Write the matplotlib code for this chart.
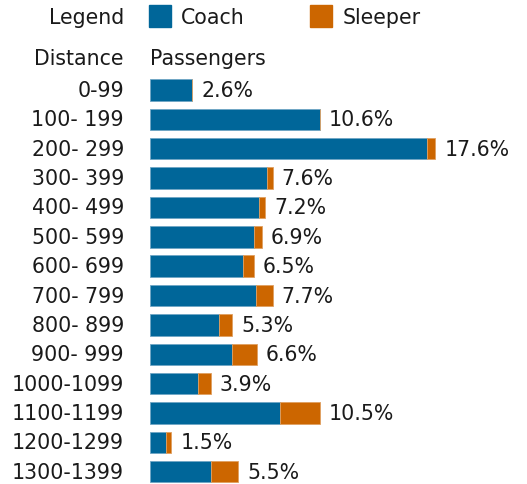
import matplotlib
matplotlib.use("Agg")
import matplotlib.pyplot as plt
from matplotlib.patches import Rectangle

categories = ["0-99", "100- 199", "200- 299", "300- 399", "400- 499", "500- 599",
              "600- 699", "700- 799", "800- 899", "900- 999", "1000-1099",
              "1100-1199", "1200-1299", "1300-1399"]
coach = [2.61, 10.51, 17.12, 7.24, 6.75, 6.42, 5.76, 6.56, 4.28, 5.08, 2.96, 8.04, 0.99, 3.78]
sleeper = [0.0, 0.0, 0.49, 0.33, 0.35, 0.48, 0.66, 1.01, 0.80, 1.51, 0.81, 2.47, 0.33, 1.65]
total_labels = ["2.6%", "10.6%", "17.6%", "7.6%", "7.2%", "6.9%", "6.5%", "7.7%",
                "5.3%", "6.6%", "3.9%", "10.5%", "1.5%", "5.5%"]

COACH = "#006699"
SLEEPER = "#cc6600"
TXT = "#1a1a1a"
FS = 14.8

W, H = 527, 485
fig = plt.figure(figsize=(W / 100, H / 100), dpi=100)
fig.patch.set_facecolor("white")

px_per_unit = 16.2
pitch = 29.36
row0 = 91.0
x0 = 150.0
n = len(categories)
top_px = row0 - pitch / 2
bot_px = row0 + (n - 1) * pitch + pitch / 2
ax = fig.add_axes([x0 / W, (H - bot_px) / H, (W - x0) / W, (bot_px - top_px) / H])
ax.set_xlim(0, (W - x0) / px_per_unit)
ax.set_ylim(n - 0.5, -0.5)
ax.axis("off")

ypos = list(range(n))
h = 0.73
ax.barh(ypos, coach, height=h, color=COACH, edgecolor="#6fa6c4", linewidth=0.6)
ax.barh(ypos, sleeper, left=coach, height=h, color=SLEEPER, edgecolor="#e0a060", linewidth=0.6)
for i in range(n):
    ax.text(coach[i] + sleeper[i] + 0.55, i, total_labels[i], va="center", ha="left",
            fontsize=FS, color=TXT)

# category labels
for i, c in enumerate(categories):
    y_fig = (H - (row0 + i * pitch)) / H
    fig.text(124 / W, y_fig, c, ha="right", va="center", fontsize=FS, color=TXT)

# headers
fig.text(124 / W, (H - 18) / H, "Legend", ha="right", va="center", fontsize=FS, color=TXT)
fig.text(124 / W, (H - 59) / H, "Distance", ha="right", va="center", fontsize=FS, color=TXT)
fig.text(150 / W, (H - 59) / H, "Passengers", ha="left", va="center", fontsize=FS, color=TXT)

# legend swatches
fig.patches.append(Rectangle((148.5 / W, (H - 28) / H), 22 / W, 22 / H,
                             transform=fig.transFigure, color=COACH, figure=fig))
fig.text(181 / W, (H - 18) / H, "Coach", ha="left", va="center", fontsize=FS, color=TXT)
fig.patches.append(Rectangle((309.5 / W, (H - 28) / H), 22 / W, 22 / H,
                             transform=fig.transFigure, color=SLEEPER, figure=fig))
fig.text(343 / W, (H - 18) / H, "Sleeper", ha="left", va="center", fontsize=FS, color=TXT)

fig.savefig("out.png", dpi=100)
